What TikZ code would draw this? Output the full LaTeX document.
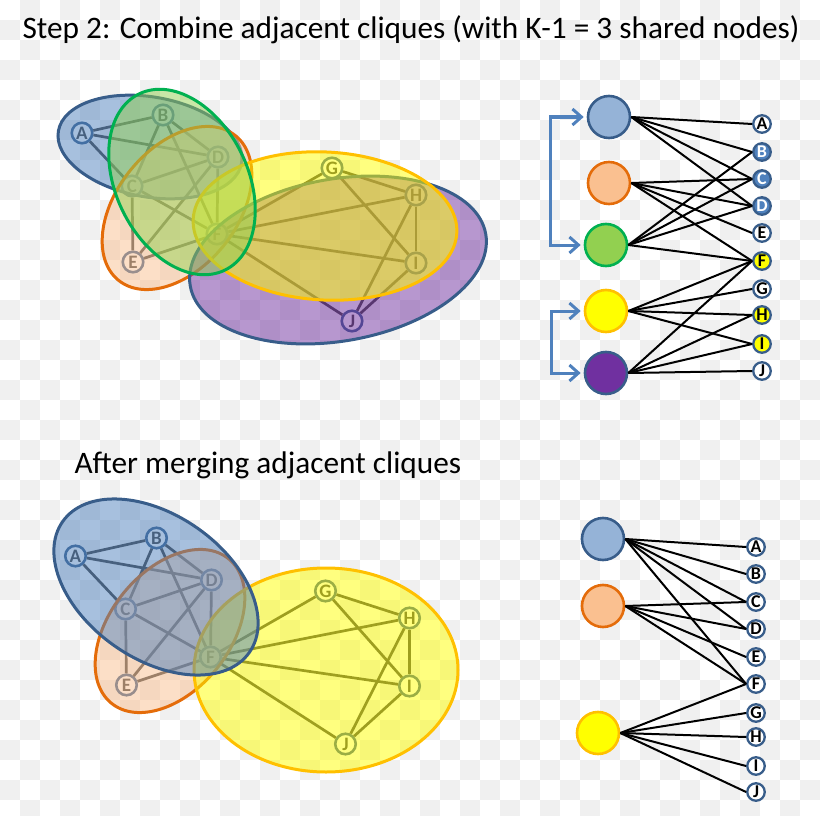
\documentclass[tikz,border=0pt]{standalone}
\usepackage{fontspec}
\setmainfont{Carlito}
\setsansfont{Carlito}
\usetikzlibrary{arrows.meta}

\definecolor{cliqueblue}{HTML}{4F81BD}
\definecolor{cliquebluedark}{HTML}{385D8A}
\definecolor{cliquebluelight}{HTML}{95B3D7}
\definecolor{cliqueorange}{HTML}{FAC090}
\definecolor{cliqueorangedark}{HTML}{E46C0A}
\definecolor{cliquegreen}{HTML}{92D050}
\definecolor{cliquegreendark}{HTML}{00B050}
\definecolor{cliqueyellow}{HTML}{FFFF00}
\definecolor{cliqueyellowdark}{HTML}{FFC000}
\definecolor{cliquepurple}{HTML}{7030A0}
\definecolor{edgegray}{HTML}{404040}

\begin{document}
\begin{tikzpicture}[x=1pt,y=-1pt,
    tile/.style={fill=black!6},
    heading/.style={anchor=base west, font=\fontsize{31.3}{31.3}\selectfont},
    vert/.style={circle, draw=cliquebluedark, fill=white, line width=2.6pt, minimum size=20.5pt, inner sep=0pt, text=edgegray, font=\fontsize{19}{19}\selectfont\bfseries},
    gedge/.style={edgegray, line width=2.7pt},
    blob/.style={line width=3pt, fill opacity=0.5},
    member/.style={circle, draw=cliquebluedark, line width=2.3pt, minimum size=17.5pt, inner sep=0pt, font=\fontsize{18}{18}\selectfont\bfseries},
    clique/.style={circle, line width=2.6pt, minimum size=42pt, inner sep=0pt},
    link/.style={black, line width=2pt},
    merge/.style={cliqueblue, line width=3pt, {Straight Barb[length=9pt,width=16pt]}-{Straight Barb[length=9pt,width=16pt]}, shorten <=3pt, shorten >=3pt}]
    \useasboundingbox (0,0) rectangle (820,816);
    \begin{scope}
        \clip (0,0) rectangle (820,816);
        \foreach \i in {0,40,...,800}
            \foreach \j in {0,40,...,800} {
                \fill[tile] (\i+20,\j) rectangle +(20,20);
                \fill[tile] (\i,\j+20) rectangle +(20,20);
            }
    \end{scope}

    \node[heading] (title) at (19,39) {Step 2: Combine adjacent cliques (with K-1 = 3 shared nodes)};
    \node[heading] (subtitle) at (71,473) {After merging adjacent cliques};

    % the two graphs
    \foreach \g/\dx/\dy in {t/0/0, b/-6.5/423} {
        \foreach \n/\x/\y in {A/82/133, B/163/115, C/132/186, D/218/157, E/133/262,
                              F/217/234, G/332/168, H/416/195, I/416/263, J/352/321}
            \node[vert] (\g\n) at (\x+\dx,\y+\dy) {\n};
        \foreach \u/\v in {A/B, A/C, A/D, B/C, B/D, B/F, C/D, C/E, C/F, D/E, D/F, E/F,
                           F/G, F/H, F/I, F/J, G/H, G/I, H/I, H/J, I/J}
            \draw[gedge] (\g\u) -- (\g\v);
    }

    % cliques before merging
    \draw[blob, draw=cliquebluedark, fill=cliqueblue, rotate around={-10:(150,147)}]
        (150,147) ellipse [x radius=93pt, y radius=50pt];
    \draw[blob, draw=cliqueorangedark, fill=cliqueorange, rotate around={-39:(177,208)}]
        (177,208) ellipse [x radius=60pt, y radius=93pt];
    \draw[blob, draw=cliquebluedark, fill=cliquepurple, rotate around={10:(338,260)}]
        (338,260) ellipse [x radius=150pt, y radius=81pt];
    \draw[blob, draw=cliqueyellowdark, fill=cliqueyellow, rotate around={-3:(325,226)}]
        (325,226) ellipse [x radius=132pt, y radius=74pt];
    \draw[blob, draw=cliquegreendark, fill=cliquegreen, rotate around={26:(182,182)}]
        (182,182) ellipse [x radius=66pt, y radius=98pt];

    % cliques after merging
    \draw[blob, draw=cliqueorangedark, fill=cliqueorange, rotate around={-39:(170,631)}]
        (170,631) ellipse [x radius=60pt, y radius=93pt];
    \draw[blob, draw=cliqueyellowdark, fill=cliqueyellow]
        (326,670) ellipse [x radius=132pt, y radius=102pt];
    \draw[blob, draw=cliquebluedark, fill=cliqueblue, rotate around={-35:(156,587)}]
        (156,587) ellipse [x radius=114pt, y radius=72pt];

    % clique / node incidence, top
    \node[clique, draw=cliquebluedark, fill=cliquebluelight] (tc1) at (609,117) {};
    \node[clique, draw=cliqueorangedark, fill=cliqueorange] (tc2) at (609,183) {};
    \node[clique, draw=cliquegreendark, fill=cliquegreen] (tc3) at (606,245) {};
    \node[clique, draw=cliqueyellowdark, fill=cliqueyellow] (tc4) at (606,311) {};
    \node[clique, draw=cliquebluedark, fill=cliquepurple] (tc5) at (606,373) {};
    \foreach \n/\y/\f/\t in {A/124/white/black, B/152/cliqueblue/white, C/179/cliqueblue/white,
                             D/206/cliqueblue/white, E/233/white/black, F/261/cliqueyellow/black,
                             G/289/white/black, H/315/cliqueyellow/black, I/344/cliqueyellow/black,
                             J/371/white/black}
        \node[member, fill=\f, text=\t] (m\n) at (762,\y) {\n};
    \foreach \c/\m in {1/A, 1/B, 1/C, 1/D, 2/C, 2/D, 2/E, 2/F, 3/B, 3/C, 3/D, 3/F,
                       4/F, 4/G, 4/H, 4/I, 5/F, 5/H, 5/I, 5/J}
        \draw[link] (tc\c.east) -- (m\m.west);
    \draw[merge] (tc1.west) -- ++(-36,0) |- (tc3.west);
    \draw[merge] (tc4.west) -- ++(-32,0) |- (tc5.west);

    % clique / node incidence, bottom
    \node[clique, draw=cliquebluedark, fill=cliquebluelight] (bc1) at (603,539) {};
    \node[clique, draw=cliqueorangedark, fill=cliqueorange] (bc2) at (603,606) {};
    \node[clique, draw=cliqueyellowdark, fill=cliqueyellow] (bc3) at (598,733) {};
    \foreach \n/\y in {A/547, B/574, C/602, D/629, E/657, F/684, G/713, H/737, I/766, J/792}
        \node[member, fill=white] (n\n) at (756,\y) {\n};
    \foreach \c/\m in {1/A, 1/B, 1/C, 1/D, 1/F, 2/C, 2/D, 2/E, 2/F,
                       3/F, 3/G, 3/H, 3/I, 3/J}
        \draw[link] (bc\c.east) -- (n\m.west);
\end{tikzpicture}
\end{document}
